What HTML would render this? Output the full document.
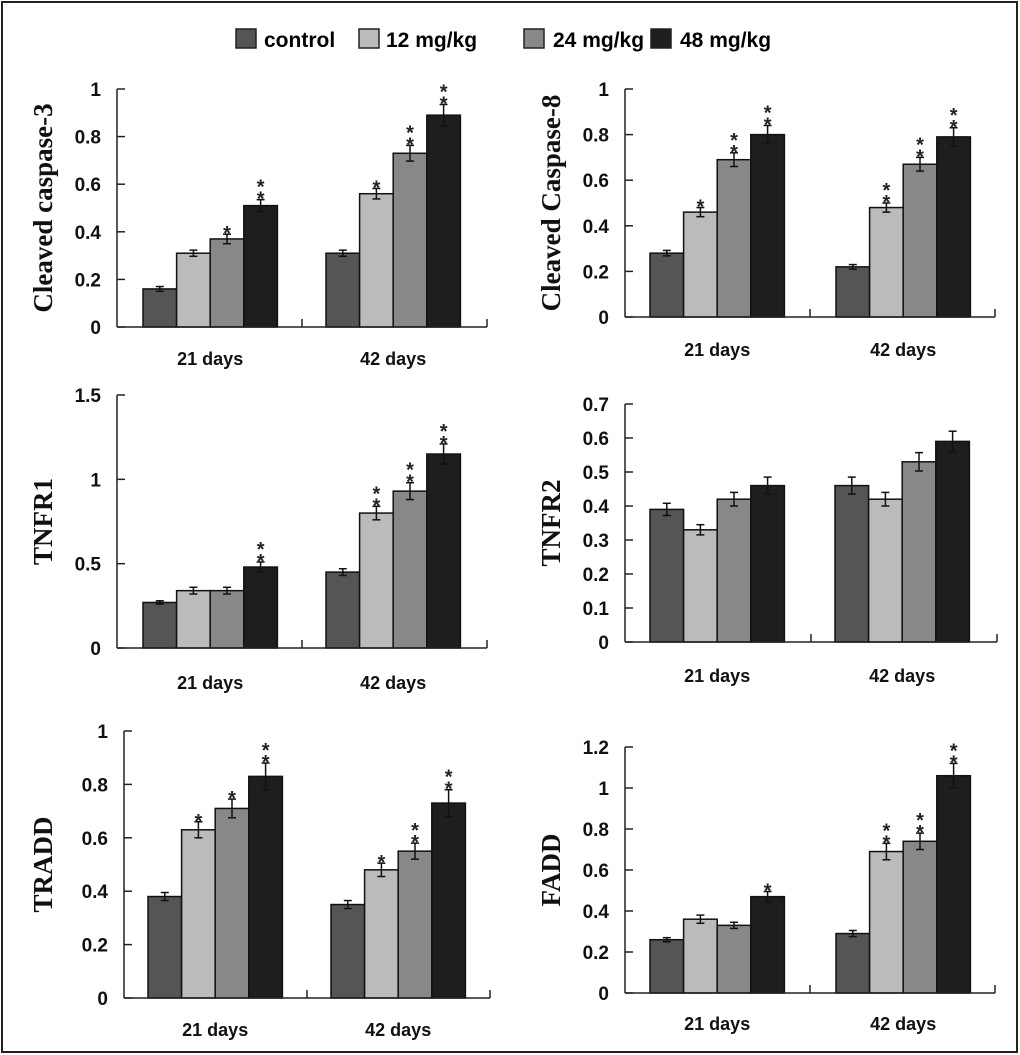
<!DOCTYPE html>
<html><head><meta charset="utf-8"><style>
html,body{margin:0;padding:0;background:#fff;}
svg{display:block;}
text{font-family:"Liberation Sans",sans-serif;font-weight:bold;}
</style></head><body>
<svg id="chart" width="1020" height="1055" viewBox="0 0 1020 1055" xmlns="http://www.w3.org/2000/svg">
<rect x="2" y="2" width="1015" height="1050" fill="#fff" stroke="#222" stroke-width="2"/>
<g>
 <g><rect x="236" y="29" width="20" height="19" fill="#555" stroke="#222" stroke-width="1.5"/><text x="264" y="47" font-size="21">control</text></g>
 <g><rect x="359" y="29" width="20" height="19" fill="#bbb" stroke="#222" stroke-width="1.5"/><text x="386" y="47" font-size="21">12 mg/kg</text></g>
 <g><rect x="524" y="29" width="20" height="19" fill="#888" stroke="#222" stroke-width="1.5"/><text x="553" y="47" font-size="21">24 mg/kg</text></g>
 <g><rect x="651" y="29" width="20" height="19" fill="#1e1e1e" stroke="#222" stroke-width="1.5"/><text x="680" y="47" font-size="21">48 mg/kg</text></g>
</g>
</svg>
<script>
const categories = ["21 days", "42 days"];
const seriesNames = ["control", "12 mg/kg", "24 mg/kg", "48 mg/kg"];
const caspase3Values = [[0.16,0.31,0.37,0.51],[0.31,0.56,0.73,0.89]];
const caspase3Err = [[0.01,0.013,0.02,0.025],[0.013,0.022,0.033,0.045]];
const caspase3Stars = [["","","*","**"],["","*","**","**"]];
const caspase8Values = [[0.28,0.46,0.69,0.80],[0.22,0.48,0.67,0.79]];
const caspase8Err = [[0.012,0.02,0.03,0.04],[0.01,0.02,0.03,0.04]];
const caspase8Stars = [["","*","**","**"],["","**","**","**"]];
const tnfr1Values = [[0.27,0.34,0.34,0.48],[0.45,0.80,0.93,1.15]];
const tnfr1Err = [[0.01,0.02,0.02,0.03],[0.02,0.04,0.05,0.06]];
const tnfr1Stars = [["","","","**"],["","**","**","**"]];
const tnfr2Values = [[0.39,0.33,0.42,0.46],[0.46,0.42,0.53,0.59]];
const tnfr2Err = [[0.018,0.015,0.02,0.025],[0.025,0.02,0.027,0.03]];
const tnfr2Stars = [["","","",""],["","","",""]];
const traddValues = [[0.38,0.63,0.71,0.83],[0.35,0.48,0.55,0.73]];
const traddErr = [[0.015,0.03,0.035,0.05],[0.015,0.025,0.03,0.05]];
const traddStars = [["","*","*","**"],["","*","**","**"]];
const faddValues = [[0.26,0.36,0.33,0.47],[0.29,0.69,0.74,1.06]];
const faddErr = [[0.01,0.02,0.015,0.025],[0.015,0.04,0.04,0.06]];
const faddStars = [["","","","*"],["","**","**","**"]];
const tnfr1Ticks = ["0","0.5","1","1.5"];
const tnfr2Ticks = ["0","0.1","0.2","0.3","0.4","0.5","0.6","0.7"];
const faddTicks = ["0","0.2","0.4","0.6","0.8","1","1.2"];
const unitTicks = ["0","0.2","0.4","0.6","0.8","1"];

const colors = ["#555555","#bbbbbb","#888888","#1e1e1e"];
const NS = "http://www.w3.org/2000/svg";
const svg = document.getElementById("chart");
function mk(tag, attrs, parent){const e=document.createElementNS(NS,tag);for(const k in attrs)e.setAttribute(k,attrs[k]);parent.appendChild(e);return e;}

const panels = [
 {id:"cleaved-caspase-3",title:"Cleaved caspase-3",vals:caspase3Values,err:caspase3Err,stars:caspase3Stars,ticks:unitTicks,x0:117,x1:487,yTop:89,yBot:327,b0:[143,326],lx:52,catY:365},
 {id:"cleaved-caspase-8",title:"Cleaved Caspase-8",vals:caspase8Values,err:caspase8Err,stars:caspase8Stars,ticks:unitTicks,x0:625,x1:995,yTop:89,yBot:317,b0:[650,836],lx:560,catY:356},
 {id:"tnfr1",title:"TNFR1",vals:tnfr1Values,err:tnfr1Err,stars:tnfr1Stars,ticks:tnfr1Ticks,x0:117,x1:487,yTop:395,yBot:648,b0:[143,326],lx:52,catY:689},
 {id:"tnfr2",title:"TNFR2",vals:tnfr2Values,err:tnfr2Err,stars:tnfr2Stars,ticks:tnfr2Ticks,x0:625,x1:997,yTop:404,yBot:642,b0:[650,835],lx:560,catY:682},
 {id:"tradd",title:"TRADD",vals:traddValues,err:traddErr,stars:traddStars,ticks:unitTicks,x0:124,x1:490,yTop:731,yBot:998,b0:[148,331],lx:52,catY:1036},
 {id:"fadd",title:"FADD",vals:faddValues,err:faddErr,stars:faddStars,ticks:faddTicks,x0:625,x1:995,yTop:747,yBot:993,b0:[650,836],lx:560,catY:1030}
];
const barW = 33.6;

panels.forEach(p=>{
 const g = mk("g",{},svg);
 
 
 const ymax = parseFloat(p.ticks[p.ticks.length-1]);
 const yScale = v => p.yBot - (v/ymax)*(p.yBot-p.yTop);
 categories.forEach((c,ci)=>{
  seriesNames.forEach((s,si)=>{
   const v = p.vals[ci][si];
   const x = p.b0[ci] + si*barW;
   const r = mk("rect",{x:x,y:yScale(v),width:barW,height:p.yBot-yScale(v),fill:colors[si],stroke:"#111","stroke-width":1.5},g);
   
   
   const e = p.err[ci][si], cx = x+barW/2;
   const eg = mk("g",{stroke:"#111","stroke-width":1.5},g);
   
   
   mk("line",{x1:cx,x2:cx,y1:yScale(v+e),y2:yScale(v-e)},eg);
   mk("line",{x1:cx-4,x2:cx+4,y1:yScale(v+e),y2:yScale(v+e)},eg);
   mk("line",{x1:cx-4,x2:cx+4,y1:yScale(v-e),y2:yScale(v-e)},eg);
   const st = p.stars[ci][si];
   for(let k=0;k<st.length;k++){
    const t = mk("text",{x:cx,y:yScale(v+e)+6-k*12,"text-anchor":"middle","font-size":20,fill:"#222"},g);
    t.textContent="*";
    
    
   }
  });
  const ct = mk("text",{x:p.b0[ci]+2*barW,y:p.catY,"text-anchor":"middle","font-size":18,fill:"#111"},g);
  ct.textContent = c;
  
  
 });
 const ax = mk("g",{stroke:"#222","stroke-width":1.5,fill:"none"},g);
 
 
 mk("line",{x1:p.x0,x2:p.x0,y1:p.yTop,y2:p.yBot},ax);
 mk("line",{x1:p.x0,x2:p.x1,y1:p.yBot,y2:p.yBot},ax);
 const mid = (p.x0+p.x1)/2;
 mk("line",{x1:mid,x2:mid,y1:p.yBot,y2:p.yBot-8},ax);
 mk("line",{x1:p.x1,x2:p.x1,y1:p.yBot,y2:p.yBot-8},ax);
 p.ticks.forEach(t=>{
  const y = yScale(parseFloat(t));
  mk("line",{x1:p.x0,x2:p.x0+8,y1:y,y2:y},ax);
  const tl = mk("text",{x:p.x0-16,y:y+7,"text-anchor":"end","font-size":19,fill:"#111"},g);
  tl.textContent = t;
  
  
 });
 const cy = (p.yTop+p.yBot)/2;
 const yt = mk("text",{x:p.lx,y:cy,"text-anchor":"middle","font-size":27,fill:"#111",transform:`rotate(-90 ${p.lx} ${cy})`,style:'font-family:"Liberation Serif",serif'},g);
 yt.textContent = p.title;
 
 
});
</script>
</body></html>
